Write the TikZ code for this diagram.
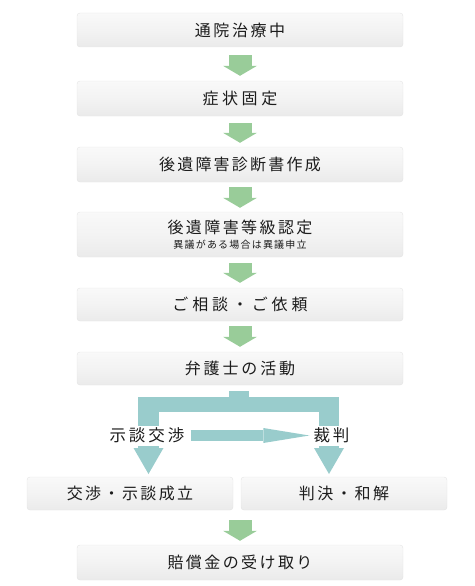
\documentclass[tikz,border=0pt]{standalone}
\usepackage{fontspec}
\newfontfamily\jpf{Noto Sans CJK JP}
\usetikzlibrary{arrows.meta,calc}
\definecolor{txt}{HTML}{1C1C1C}
\definecolor{grn}{HTML}{99CC99}
\definecolor{tea}{HTML}{99CCCC}
\definecolor{boxbot}{HTML}{E2E2E2}
\definecolor{boxmid}{HTML}{F3F3F3}
\definecolor{boxln}{HTML}{E4E4E4}
\pgfdeclareverticalshading{boxsh}{100bp}{color(0bp)=(boxbot); color(50bp)=(boxmid); color(100bp)=(white)}
\newcommand\ls[2]{{\addfontfeatures{LetterSpace=#1}#2}}
\begin{document}
\begin{tikzpicture}[x=1pt,y=-1pt,
  flowbox/.style={rounded corners=3pt, draw=boxln, shading=boxsh, text=txt,
    font=\jpf\fontsize{16}{19}\selectfont, inner sep=0pt, minimum width=326pt, minimum height=34pt},
  halfbox/.style={flowbox, minimum width=206pt},
  garrow/.style={draw=grn, line width=23pt, -{Triangle[width=34pt,length=10pt,line width=0pt]}},
  tline/.style={draw=tea},
  tarrow/.style={draw=tea, -{Triangle[width=30pt,length=26pt,line width=0pt]}},
  lab/.style={fill=white, text=txt, font=\jpf\fontsize{16.5}{19}\selectfont, inner xsep=1pt, inner ysep=0pt, minimum height=20pt}
]
\useasboundingbox (0,0) rectangle (474,586);

\node[flowbox] (b1) at (240,30) {\ls{16}{通院治療中}\hspace{3pt}};
\node[flowbox, minimum height=35pt] (b2) at (240,98.5) {\ls{22}{症状固定}\hspace{3pt}};
\node[flowbox, minimum height=35pt] (b3) at (240,164.5) {\ls{14}{後遺障害診断書作成}\hspace{3pt}};
\node[flowbox, minimum height=45pt, align=center] (b4) at (240,234.5)
  {\ls{15}{後遺障害等級認定}\hspace{3pt}\\[-4pt]{\fontsize{10}{12}\selectfont\ls{12}{異議がある場合は異議申立}\hspace{3pt}}};
\node[flowbox, minimum height=33pt] (b5) at (240,304.5) {\ls{24}{ご相談・ご依頼}\hspace{5pt}};
\node[flowbox, minimum height=33pt] (b6) at (240,368.5) {\ls{18}{弁護士の活動}\hspace{5pt}};
\node[halfbox, minimum height=33pt] (bl) at (130,493.5) {\ls{15}{交渉・示談成立}};
\node[halfbox, minimum height=33pt] (br) at (344,493.5) {\ls{16}{判決・和解}};
\node[flowbox, minimum height=35pt] (fin) at (240,562.5) {\ls{15}{賠償金の受け取り}\hspace{1pt}};

\draw[garrow] ([yshift=-8pt]b1.south) -- ([yshift=5pt]b2.north);
\draw[garrow] ([yshift=-7pt]b2.south) -- ([yshift=4pt]b3.north);
\draw[garrow] ([yshift=-5pt]b3.south) -- ([yshift=4pt]b4.north);
\draw[garrow] ([yshift=-6pt]b4.south) -- ([yshift=5pt]b5.north);
\draw[garrow] ([yshift=-5pt]b5.south) -- ([yshift=5pt]b6.north);
\coordinate (mid) at (fin.north |- bl.south);
\draw[garrow] ([yshift=-10pt]mid) -- ([yshift=4pt]fin.north);

% teal bracket
\coordinate (st) at ([xshift=-1pt,yshift=-6pt]b6.south);
\coordinate (barl) at (138,404.5);
\coordinate (barr) at (339,404.5);
\coordinate (lt) at (148.5,397);
\coordinate (lb) at (148.5,474);
\coordinate (rt) at (329,397);
\coordinate (rb) at (329,474);
\draw[tline, line width=20pt] (st) -- (st |- barl);
\draw[tline, line width=15pt] (barl) -- (barr);
\draw[tarrow, line width=21pt] (lt) -- (lb);
\draw[tarrow, line width=20pt] (rt) -- (rb);

\node[lab] (ln) at (147,435.5) {\ls{18}{示談交渉}};
\node[lab] (rn) at (331.5,435.5) {\ls{18}{裁判}};
\draw[draw=tea, line width=11pt, -{Triangle[width=15pt,length=46pt,line width=0pt]}]
  ([xshift=5pt]ln.east) -- ([xshift=-3pt]rn.west);
\end{tikzpicture}
\end{document}
